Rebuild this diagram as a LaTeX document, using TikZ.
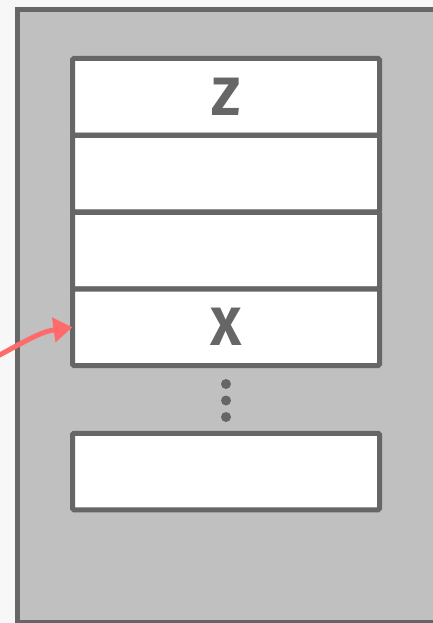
\documentclass[tikz,border=0pt]{standalone}
\usepackage{fontspec}
\setmainfont{Fira Sans}
\usetikzlibrary{arrows.meta}
\definecolor{edge}{HTML}{666666}
\definecolor{panel}{HTML}{C0C0C0}
\definecolor{paper}{HTML}{F7F7F7}
\definecolor{pointer}{HTML}{FF6B6B}
\tikzset{
  cell/.style={draw=edge, fill=white, line width=5pt, rounded corners=1.5pt,
    minimum width=307pt, minimum height=76.5pt, inner sep=0pt, outer sep=0pt,
    font=\fontsize{54}{54}\selectfont\bfseries, text=edge},
  dot/.style={circle, fill=edge, minimum size=10pt, inner sep=0pt},
  link/.style={draw=pointer, line width=5pt, -{Triangle[length=19pt,width=24pt]}}
}
\begin{document}
\begin{tikzpicture}[x=1pt,y=-1pt]
  \useasboundingbox (0,0) rectangle (433,623);
  \clip (0,0) rectangle (433,623);
  \fill[paper] (0,0) rectangle (433,623);
  % memory panel
  \draw[edge, fill=panel, line width=5.5pt] (17.5,9.5) rectangle (470,623);
  % stack of cells
  \node[cell] (c1) at (226,96.75) {Z};
  \node[cell] (c2) at (226,173.5) {};
  \node[cell] (c3) at (226,250.5) {};
  \node[cell] (c4) at (226,327.25) {X};
  \node[dot] (d1) at (226,384) {};
  \node[dot] (d2) at (226,400.5) {};
  \node[dot] (d3) at (226,417) {};
  \node[cell] (c5) at (226,471.5) {};
  % incoming pointer
  \coordinate (src) at (-6,358);
  \draw[link] (src) to[out=28,in=188] (c4.west);
\end{tikzpicture}
\end{document}
